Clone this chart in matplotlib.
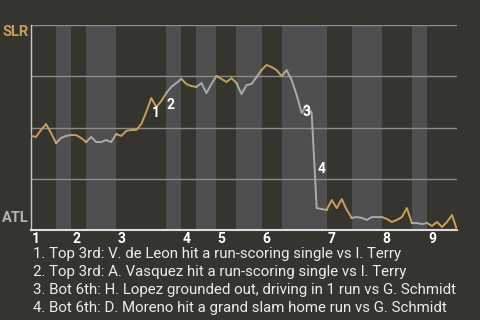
import matplotlib.pyplot as plt

plt.rcParams['font.family'] = ['Roboto', 'DejaVu Sans']

BG = '#36342f'
BAND = '#4f4f4f'
GOLD = '#c9a05a'
GRAY = '#ababab'

AWAY, HOME = 'SLR', 'ATL'

# SLR win probability (%) after each play
win_prob = [
    45.9, 45.4, 48.8, 51.7, 47.3, 42.4, 44.9, 45.9, 46.3, 46.3,
    44.9, 42.9, 45.4, 42.9, 42.9, 43.9, 42.9, 46.8, 45.9, 48.3,
    48.8, 48.8, 51.7, 57.6, 64.4, 60.0, 62.9, 66.8, 69.8, 71.7,
    73.7, 71.2, 70.2, 69.8, 71.7, 66.8, 71.2, 75.1, 73.7, 72.2,
    74.1, 71.7, 66.3, 70.7, 71.2, 74.6, 78.0, 80.5, 79.5, 78.0,
    75.1, 78.0, 73.2, 65.9, 57.1, 61.0, 57.1, 10.7, 10.2, 9.8,
    14.6, 10.7, 15.1, 9.8, 5.9, 6.3, 5.9, 4.9, 6.3, 6.3,
    6.3, 5.4, 3.9, 4.9, 6.3, 10.7, 3.4, 3.4, 2.9, 3.4,
    2.0, 3.9, 1.5, 3.9, 7.3, 0.0,
]

# play index where each half-inning starts (top 1st, bot 1st, ...), last = end of game
half_starts = [0, 5, 8, 11, 17, 27, 30, 33, 37, 41, 46, 50, 59, 64, 70, 76, 79, 85]
innings = [1, 2, 3, 4, 5, 6, 7, 8, 9]

# key plays: index of the play that ends the jump
event_plays = [24, 27, 54, 57]
event_texts = [
    "Top 3rd: V. de Leon hit a run-scoring single vs I. Terry",
    "Top 3rd: A. Vasquez hit a run-scoring single vs I. Terry",
    "Bot 6th: H. Lopez grounded out, driving in 1 run vs G. Schmidt",
    "Bot 6th: D. Moreno hit a grand slam home run vs G. Schmidt",
]

fig = plt.figure(figsize=(4.8, 3.2), dpi=100, facecolor=BG)
ax = fig.add_axes([31 / 480, 1 - 230 / 320, 426 / 480, 205 / 320], facecolor=BG)

# half-inning bands and line segments (top halves = SLR batting)
for h in range(len(half_starts) - 1):
    a, b = half_starts[h], half_starts[h + 1]
    if h % 2 == 1:
        ax.axvspan(a, b, color=BAND, lw=0, zorder=0)
    ax.plot(range(a, b + 1), win_prob[a:b + 1], color=GOLD if h % 2 == 0 else GRAY,
            lw=1.4, zorder=3)

for y in [25, 50, 75, 100]:
    ax.axhline(y, color='#8c8c8c', lw=1, zorder=1)

ax.set_xlim(0, half_starts[-1])
ax.set_ylim(0, 100)
ax.set_xticks([])
ax.set_yticks([])
for s in ['top', 'right']:
    ax.spines[s].set_visible(False)
ax.spines['left'].set_color('#c8c8c8')
ax.spines['left'].set_linewidth(1)
ax.spines['bottom'].set_color('#dcdcdc')
ax.spines['bottom'].set_linewidth(1.5)

# team labels
ax.annotate(AWAY, (0, 1), xycoords='axes fraction', xytext=(-2, 0),
            textcoords='offset pixels', ha='right', va='top',
            color=GOLD, fontsize=10.5, fontweight='bold')
ax.annotate(HOME, (0, 0), xycoords='axes fraction', xytext=(-2, 5),
            textcoords='offset pixels', ha='right', va='bottom',
            color='#b4b4b4', fontsize=10.5, fontweight='bold')

# inning numbers
inning_starts = half_starts[0::2][:len(innings)]
for inn, x0 in zip(innings, inning_starts):
    ax.annotate(str(inn), (x0, 0), xycoords=('data', 'axes fraction'),
                xytext=(1, -2), textcoords='offset pixels', ha='left', va='top',
                color='white', fontsize=10, fontweight='bold')

# event markers
for k, p in enumerate(event_plays):
    ym = (win_prob[p - 1] + win_prob[p]) / 2
    ax.annotate(str(k + 1), (p - 0.5, ym), xytext=(7, -8), textcoords='offset pixels',
                ha='center', va='center', color='white', fontsize=10,
                fontweight='bold', zorder=4)

# footnotes
for k, t in enumerate(event_texts):
    fig.text(33 / 480, 1 - (258 + 18 * k) / 320, f"{k + 1}. {t}", ha='left',
             va='baseline', color='#ececec', fontsize=10.8)

fig.savefig('out.png', dpi=100, facecolor=BG)
